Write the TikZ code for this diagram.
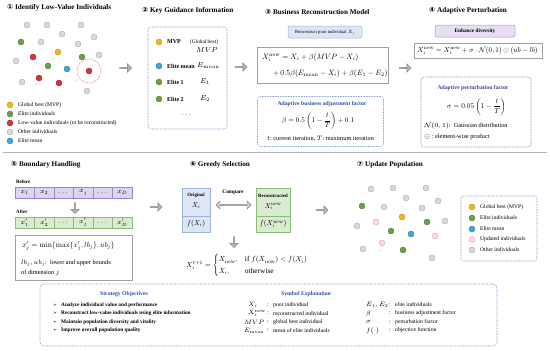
\RequirePackage{fix-cm}
\documentclass[tikz,border=0pt]{standalone}
\usepackage{amsmath,amssymb,graphicx}
\usepackage[no-math]{fontspec}
\setmainfont{Liberation Serif}
\newfontfamily\djv{DejaVu Sans}
\usetikzlibrary{shapes.arrows,shapes.geometric}
\definecolor{cGray}{HTML}{D9D9D9}
\definecolor{cGrayD}{HTML}{ABABAB}
\definecolor{cGreen}{HTML}{6C9E4B}
\definecolor{cGreenD}{HTML}{4F7F35}
\definecolor{cRed}{HTML}{D63333}
\definecolor{cRedD}{HTML}{A82222}
\definecolor{cOr}{HTML}{F2B420}
\definecolor{cOrD}{HTML}{C98F10}
\definecolor{cBlue}{HTML}{3FA7D6}
\definecolor{cBlueD}{HTML}{2680AA}
\definecolor{cPink}{HTML}{F9DCDD}
\definecolor{cPinkD}{HTML}{E57A7A}
\definecolor{cDashB}{HTML}{8EA6D8}
\definecolor{cDashP}{HTML}{A892D2}
\definecolor{cTxtB}{HTML}{2B50A0}
\definecolor{cTxtP}{HTML}{4A3C9E}
\definecolor{cBtnB}{HTML}{DCE6F5}
\definecolor{cBtnBD}{HTML}{9FB5DB}
\definecolor{cBtnP}{HTML}{E7DEF4}
\definecolor{cBtnPD}{HTML}{A995CF}
\definecolor{cCellP}{HTML}{DDD4F0}
\definecolor{cCellPD}{HTML}{9C87CC}
\definecolor{cCellG}{HTML}{D9EBD0}
\definecolor{cCellGD}{HTML}{8DBB7A}
\definecolor{cArrF}{HTML}{B4B4B4}
\definecolor{cArrD}{HTML}{808080}
\definecolor{cFrame}{HTML}{A0A0A0}
\tikzset{
  dotb/.style={circle,inner sep=0pt,outer sep=0pt,minimum size=6pt,line width=0.35pt},
  dgray/.style={dotb,fill=cGray,draw=cGrayD},
  dgreen/.style={dotb,fill=cGreen,draw=cGreenD},
  dred/.style={dotb,fill=cRed,draw=cRedD},
  dorange/.style={dotb,fill=cOr,draw=cOrD},
  dblue/.style={dotb,fill=cBlue,draw=cBlueD},
  dpink/.style={dotb,fill=cPink,draw=cPinkD,dash pattern=on 0.8pt off 0.6pt},
  speck/.style={circle,inner sep=0pt,minimum size=1pt,fill=cRed!80},
  ttl/.style={anchor=west,inner sep=0pt,font=\fontsize{7.2}{8}\selectfont\bfseries},
  lgt/.style={anchor=west,inner sep=0pt,font=\fontsize{5.6}{6.5}\selectfont},
  hd/.style={inner sep=0pt,font=\fontsize{5.7}{6.5}\selectfont\bfseries},
  bt/.style={inner sep=0pt,font=\fontsize{6}{7}\selectfont\bfseries},
  rt/.style={inner sep=0pt,font=\fontsize{6.3}{7.5}\selectfont},
  st/.style={inner sep=0pt,anchor=west,font=\fontsize{5.3}{6.5}\selectfont\bfseries},
  sd/.style={inner sep=0pt,anchor=west,font=\fontsize{5.7}{6.5}\selectfont},
  mt/.style={inner sep=0pt,font=\fontsize{7.2}{8.5}\selectfont},
  sm/.style={inner sep=0pt,anchor=west,font=\fontsize{6.3}{7.5}\selectfont},
  eq/.style={inner sep=0pt},
  boxn/.style={rectangle,inner sep=0pt,outer sep=0pt},
  dashb/.style={boxn,draw=cDashB,line width=0.6pt,dash pattern=on 1.6pt off 1pt,rounded corners=3pt},
  dashp/.style={boxn,draw=cDashP,line width=0.6pt,dash pattern=on 1.6pt off 1pt,rounded corners=3pt},
  frame/.style={boxn,draw=cFrame,line width=0.6pt,fill=white},
  blk/.style={single arrow,draw=cArrD,fill=cArrF,line width=0.4pt,minimum height=12pt,minimum width=8.5pt,single arrow head extend=2pt,inner sep=0pt,single arrow head indent=0pt},
  cellp/.style={boxn,draw=cCellPD,fill=cCellP,line width=0.5pt,minimum width=19.5pt,minimum height=11pt,font=\fontsize{6.6}{7.5}\selectfont},
  cellg/.style={boxn,draw=cCellGD,fill=cCellG,line width=0.5pt,minimum width=19.5pt,minimum height=11pt,font=\fontsize{6.6}{7.5}\selectfont},
}
\begin{document}
\begin{tikzpicture}[x=1pt,y=-1pt]
\useasboundingbox (0,0) rectangle (550,351);
\fill[white] (0,0) rectangle (550,351);

% ---------------- Panel 1
\node[ttl] (t1) at (7,8) {{\djv ①} Identify Low-Value Individuals};
\foreach \px/\py [count=\k] in {27/25,47/25,81/25,62/34,94/37,41/42,78/44,99/55,16/61,22/82,87/91}
  {\node[dgray] (a1g\k) at (\px,\py) {};}
\foreach \px/\py [count=\k] in {21/42,82/57,48/66}
  {\node[dgreen] (a1e\k) at (\px,\py) {};}
\foreach \px/\py [count=\k] in {33/57,89/71,39/78,59/83}
  {\node[dred] (a1r\k) at (\px,\py) {};}
\node[dorange] (a1o) at (58,52) {};
\node[dblue] (a1b) at (67,69) {};
\node[circle,draw=cRed!70,dash pattern=on 1pt off 0.8pt,line width=0.45pt,minimum size=24pt,inner sep=0pt] (a1ring) at (89,71) {};
\node[speck] (a1s1) at (36,84) {};
\node[speck] (a1s2) at (77,80) {};
\node[dorange] (l1a) at (10,105) {}; \node[lgt] (l1at) at (18,105) {Global best (MVP)};
\node[dgreen] (l1b) at (10,114) {}; \node[lgt] (l1bt) at (18,114) {Elite individuals};
\node[dred] (l1c) at (10,123) {}; \node[lgt] (l1ct) at (18,123) {Low-value individuals (to be reconstructed)};
\node[dgray] (l1d) at (10,132) {}; \node[lgt] (l1dt) at (18,132) {Other individuals};
\node[dblue] (l1e) at (10,141) {}; \node[lgt] (l1et) at (18,141) {Elite mean};
\node[blk] (ar12) at (125.5,68) {};

% ---------------- Panel 2
\node[ttl] (t2) at (142,11) {{\djv ②} Key Guidance Information};
\node[dashb,minimum width=79pt,minimum height=102pt] (box2) at (187.5,78) {};
\node[dorange] (k1) at (159,42) {};
\node[bt,anchor=west] (k1t) at (167,42) {MVP};
\node[inner sep=0pt,anchor=west,font=\fontsize{5.3}{6}\selectfont] (k1g) at (190,42) {(Global best)};
\node[mt] (k1m) at (207,50) {$MVP$};
\node[dblue] (k2) at (159,66) {};
\node[bt,anchor=west] (k2t) at (167,66) {Elite mean};
\node[mt,anchor=west] (k2m) at (197,66) {$E_{\mathrm{mean}}$};
\node[dgreen] (k3) at (159,82) {};
\node[bt,anchor=west] (k3t) at (167,82) {Elite 1};
\node[mt,anchor=west] (k3m) at (200,82) {$E_1$};
\node[dgreen] (k4) at (159,99) {};
\node[bt,anchor=west] (k4t) at (167,99) {Elite 2};
\node[mt,anchor=west] (k4m) at (200,99) {$E_2$};
\node[mt] (k5) at (187,115) {$\cdots$};
\node[blk] (ar23) at (241,67) {};

% ---------------- Panel 3
\node[ttl] (t3) at (265,12) {{\djv ③} Business Reconstruction Model};
\node[boxn,draw=cBtnBD,fill=cBtnB,line width=0.5pt,rounded corners=2pt,minimum width=74pt,minimum height=12pt,font=\fontsize{4.6}{5.5}\selectfont] (btn3) at (325,32) {Reconstruct poor individual $X_i$};
\node[frame,minimum width=131pt,minimum height=36pt] (f3) at (322.5,65) {};
\node[eq,anchor=west] (f3a) at (262,57.5) {\scalebox{0.77}{$X_i^{\mathrm{new}} = X_i + \beta(MVP - X_i)$}};
\node[eq,anchor=west] (f3b) at (273,73.5) {\scalebox{0.77}{$+\,0.5\beta(E_{\mathrm{mean}} - X_i) + \beta(E_1 - E_2)$}};
\node[dashb,minimum width=126pt,minimum height=50pt] (box3) at (320.5,121.5) {};
\node[hd,text=cTxtB] (b3h) at (322,104) {Adaptive business adjustment factor};
\node[eq] (b3f) at (318,121) {\scalebox{0.72}{$\beta = 0.5\left(1-\dfrac{t}{T}\right)+0.1$}};
\node[rt] (b3n) at (320.5,138.5) {$t$:\ current iteration,\ $T$:\ maximum iteration};
\node[blk] (ar34) at (405,68) {};

% ---------------- Panel 4
\node[ttl] (t4) at (429,11) {{\djv ④} Adaptive Perturbation};
\node[boxn,draw=cBtnPD,fill=cBtnP,line width=0.5pt,rounded corners=2pt,minimum width=80pt,minimum height=12pt,font=\fontsize{5.3}{6}\selectfont\bfseries] (btn4) at (475,31) {Enhance diversity};
\node[frame,minimum width=128pt,minimum height=15pt] (f4) at (478,50.5) {};
\node[eq] (f4a) at (477.5,50.5) {\scalebox{0.72}{$X_i^{\mathrm{new}} = X_i^{\mathrm{new}} + \sigma\cdot\mathcal{N}(0,1)\odot(ub - lb)$}};
\node[dashp,minimum width=110pt,minimum height=70pt] (box4) at (476,112) {};
\node[hd,text=cTxtP] (b4h) at (473,88.5) {Adaptive perturbation factor};
\node[eq] (b4f) at (476.5,106.5) {\scalebox{0.73}{$\sigma = 0.05\left(1-\dfrac{t}{T}\right)$}};
\node[rt,anchor=west] (b4n) at (424,126) {$\mathcal{N}(0,1)$:\ \ Gaussian distribution};
\node[rt,anchor=west] (b4o) at (424,136.5) {$\odot$ :\ element-wise product};

% ---------------- separator
\draw[cFrame!80,line width=0.7pt] (3,152) -- (547,152);

% ---------------- Panel 5
\node[ttl] (t5) at (11,165) {{\djv ⑤} Boundary Handling};
\node[inner sep=0pt,anchor=west,font=\fontsize{5}{6}\selectfont\bfseries] (bef) at (16,182) {Before};
\node[cellp] (c1) at (24.75,192.5) {$x_1$};
\node[cellp] (c2) at (44.25,192.5) {$x_2$};
\node[cellp] (c3) at (63.75,192.5) {$\cdots$};
\node[cellp] (c4) at (83.25,192.5) {$x_j$};
\node[cellp] (c5) at (102.75,192.5) {$\cdots$};
\node[cellp] (c6) at (122.25,192.5) {$x_D$};
\node[blk,shape border rotate=270,minimum height=11pt] (ar5d) at (75,208) {};
\node[inner sep=0pt,anchor=west,font=\fontsize{5}{6}\selectfont\bfseries] (aft) at (16,212) {After};
\node[cellg] (d1) at (24.75,222.5) {$x_1'$};
\node[cellg] (d2) at (44.25,222.5) {$x_2'$};
\node[cellg] (d3) at (63.75,222.5) {$\cdots$};
\node[cellg] (d4) at (83.25,222.5) {$x_j'$};
\node[cellg] (d5) at (102.75,222.5) {$\cdots$};
\node[cellg] (d6) at (122.25,222.5) {$x_D'$};
\node[frame,minimum width=117pt,minimum height=45pt] (f5) at (73.5,257.5) {};
\node[eq,anchor=west] (f5a) at (22,246) {\scalebox{0.75}{$x_j' = \min\{\max\{x_j', lb_j\}, ub_j\}$}};
\node[rt,anchor=west] (f5b) at (21,263) {$lb_j$, $ub_j$:\ \ lower and upper bounds};
\node[rt,anchor=west] (f5c) at (21,273) {of dimension $j$};
\node[blk] (ar56) at (156,207) {};

% ---------------- Panel 6
\node[ttl,anchor=center] (t6) at (220,165) {{\djv ⑥} Greedy Selection};
\node[boxn,draw=cBtnBD,fill=cBtnB,line width=0.5pt,minimum width=28pt,minimum height=28pt] (o1) at (196,202) {};
\node[boxn,draw=cBtnBD,fill=cBtnB,line width=0.5pt,minimum width=28pt,minimum height=16pt] (o2) at (196,224) {};
\node[inner sep=0pt,font=\fontsize{4.8}{5.5}\selectfont\bfseries] (o1t) at (196,195.5) {Original};
\node[eq] (o1m) at (196,205.5) {\scalebox{0.72}{$X_i$}};
\node[eq] (o2m) at (196,224) {\scalebox{0.72}{$f(X_i)$}};
\node[boxn,draw=cCellGD,fill=cCellG,line width=0.5pt,minimum width=34pt,minimum height=28pt] (r1) at (273,202) {};
\node[boxn,draw=cCellGD,fill=cCellG,line width=0.5pt,minimum width=34pt,minimum height=16pt] (r2) at (273,224) {};
\node[inner sep=0pt,font=\fontsize{4.8}{5.5}\selectfont\bfseries] (r1t) at (273,195.5) {Reconstructed};
\node[eq] (r1m) at (273,206.5) {\scalebox{0.72}{$X_i^{\mathrm{new}}$}};
\node[eq] (r2m) at (273,224) {\scalebox{0.72}{$f(X_i^{\mathrm{new}})$}};
\node[inner sep=0pt,font=\fontsize{5.3}{6}\selectfont\bfseries] (cmp) at (233,192) {Compare};
\node[double arrow,draw=cArrD,fill=cArrF!60,line width=0.4pt,minimum height=35pt,minimum width=8pt,double arrow head extend=1.8pt,inner sep=0pt] (dbl) at (233.5,205) {};
\node[blk,shape border rotate=270,minimum height=11pt] (ar6d) at (234,242) {};
\node[eq,anchor=west] (f6) at (186,265.5) {\scalebox{0.74}{$X_i^{t+1} = \begin{cases} X_{\mathrm{new}}, & \text{if } f(X_{\mathrm{new}}) < f(X_i)\\[1pt] X_i, & \text{otherwise}\end{cases}$}};
\node[blk] (ar67) at (322,210) {};

% ---------------- Panel 7
\node[ttl] (t7) at (357,165) {{\djv ⑦} Update Population};
\foreach \px/\py [count=\k] in {371/189,393/188,426/188,406/198,438/201,384/207,422/208,445/221,357/226,363/249,432/258}
  {\node[dgray] (a7g\k) at (\px,\py) {};}
\foreach \px/\py [count=\k] in {362/206,427/222,391/231,403/250}
  {\node[dgreen] (a7e\k) at (\px,\py) {};}
\foreach \px/\py [count=\k] in {376/222,435/236,382/243}
  {\node[dpink] (a7p\k) at (\px,\py) {};}
\node[dorange] (a7o) at (402,217) {};
\node[dblue] (a7b) at (411,234) {};
\node[speck] (a7s) at (380,250) {};
\node[dashb,minimum width=76pt,minimum height=65pt] (box7) at (499,228.5) {};
\node[dorange] (l7a) at (472,207) {}; \node[lgt] (l7at) at (480,207) {Global best (MVP)};
\node[dgreen] (l7b) at (472,218) {}; \node[lgt] (l7bt) at (480,218) {Elite individuals};
\node[dblue] (l7c) at (472,229) {}; \node[lgt] (l7ct) at (480,229) {Elite mean};
\node[dpink] (l7d) at (472,239.5) {}; \node[lgt] (l7dt) at (480,239.5) {Updated individuals};
\node[dgray] (l7e) at (472,250) {}; \node[lgt] (l7et) at (480,250) {Other individuals};

% ---------------- Bottom box
\node[dashb,rounded corners=4pt,minimum width=457pt,minimum height=62pt] (box8) at (268.5,315) {};
\node[hd,text=cTxtB] (soh) at (124,294) {Strategy Objectives};
\foreach \yy/\txt [count=\k] in {305/Analyze individual value and performance,313.5/Reconstruct low-value individuals using elite information,322/Maintain population diversity and vitality,330.5/Improve overall population quality}
  {\node[inner sep=0pt,font=\fontsize{4.5}{5}\selectfont\djv] (sa\k) at (55,\yy) {➢};
   \node[st] (so\k) at (61,\yy) {\txt};}
\node[hd,text=cTxtB] (seh) at (306,294) {Symbol Explanation};
\node[sm] (sm1) at (248,305) {$X_i$};
\node[sm] (sm2) at (248,313.5) {$X_i^{\mathrm{new}}$};
\node[sm] (sm3) at (244,322) {$MVP$};
\node[sm] (sm4) at (244,330.5) {$E_{\mathrm{mean}}$};
\foreach \yy [count=\k] in {305,313.5,322,330.5}
  {\node[sd,anchor=center] (sc\k) at (268,\yy) {:};
   \node[sd,anchor=center] (td\k) at (390,\yy) {:};}
\node[sd] (sd1) at (273,305) {poor individual};
\node[sd] (sd2) at (273,313.5) {reconstructed individual};
\node[sd] (sd3) at (273,322) {global best individual};
\node[sd] (sd4) at (273,330.5) {mean of elite individuals};
\node[sm] (tm1) at (366,305) {$E_1, E_2$};
\node[sm] (tm2) at (366,313.5) {$\beta$};
\node[sm] (tm3) at (366,322) {$\sigma$};
\node[sm] (tm4) at (366,330.5) {$f(\cdot)$};
\node[sd] (te1) at (395,305) {elite individuals};
\node[sd] (te2) at (395,313.5) {business adjustment factor};
\node[sd] (te3) at (395,322) {perturbation factor};
\node[sd] (te4) at (395,330.5) {objective function};
\end{tikzpicture}
\end{document}
